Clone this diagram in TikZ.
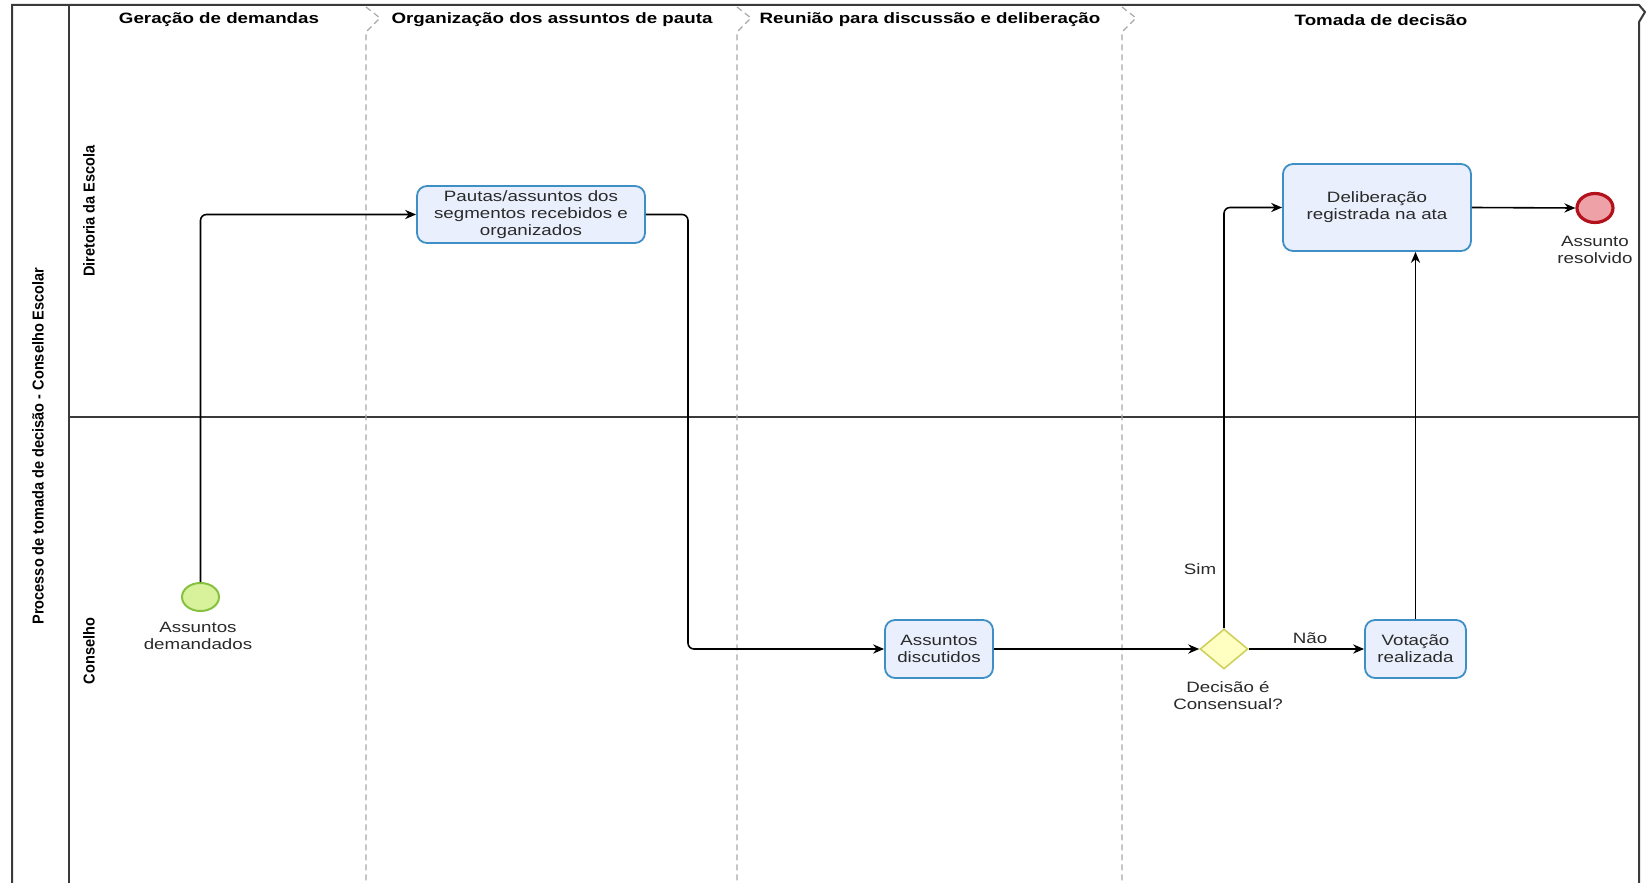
\documentclass[tikz,border=0pt]{standalone}
\usepackage{fontspec}
\setmainfont[FakeStretch=1.25]{Liberation Sans}
\newfontfamily\rotfont[FakeStretch=0.92]{Liberation Sans}
\usetikzlibrary{shapes.geometric,arrows.meta}
\definecolor{taskfill}{HTML}{E9EFFC}
\definecolor{taskdraw}{HTML}{3D8FC6}
\definecolor{gwfill}{HTML}{FFFFC2}
\definecolor{gwdraw}{HTML}{D0D060}
\definecolor{startfill}{HTML}{D8F29C}
\definecolor{startdraw}{HTML}{86C240}
\definecolor{endfill}{HTML}{EFA1A8}
\definecolor{enddraw}{HTML}{B3121C}
\definecolor{poolline}{HTML}{3A3A3A}
\definecolor{phaseline}{HTML}{A8A8A8}
\definecolor{txt}{HTML}{2A2A2A}
\begin{document}
\begin{tikzpicture}[x=0.5pt,y=-0.5pt,
  task/.style={draw=taskdraw, fill=taskfill, line width=0.9pt, rounded corners=5pt,
    align=center, font=\fontsize{7.5}{8.5}\selectfont, text=txt, inner sep=0pt},
  gateway/.style={diamond, draw=gwdraw, fill=gwfill, line width=0.8pt, inner sep=0pt,
    minimum width=24pt, minimum height=20pt},
  startev/.style={ellipse, draw=startdraw, fill=startfill, line width=1pt, inner sep=0pt,
    minimum width=18.5pt, minimum height=14pt},
  endev/.style={ellipse, draw=enddraw, fill=endfill, line width=1.6pt, inner sep=0pt,
    minimum width=18pt, minimum height=14.5pt},
  lbl/.style={align=center, font=\fontsize{7.5}{8.5}\selectfont, text=txt, inner sep=0pt},
  header/.style={font=\fontsize{7.5}{9}\selectfont\bfseries, text=black, inner sep=0pt},
  rotlbl/.style={rotate=90, font=\rotfont\bfseries\fontsize{7.9}{9}\selectfont, text=black, inner sep=0pt},
  flow/.style={draw=black, line width=0.8pt, rounded corners=3pt,
    -{Stealth[length=5.5pt,width=4.6pt]}},
  phase/.style={draw=phaseline, line width=0.6pt, dash pattern=on 3pt off 2pt},
  poolb/.style={draw=poolline, line width=1pt},
]
\useasboundingbox (0,0) rectangle (1646,883);
\fill[white] (0,0) rectangle (1646,883);

% pool frame
\draw[poolb] (12,883) -- (12,5) -- (1639,5) -- (1645,12) -- (1639,22) -- (1639,883);
\draw[poolb] (69,5) -- (69,883);
\draw[draw=poolline, line width=0.6pt] (69,417) -- (1639,417);

% phase separators
\draw[phase] (366,7) -- (380,18) -- (366,32) -- (366,883);
\draw[phase] (737,7) -- (751,18) -- (737,32) -- (737,883);
\draw[phase] (1122,7) -- (1136,18) -- (1122,32) -- (1122,883);

% headers
\node[header] (h1) at (219,20) {Geração de demandas};
\node[header] (h2) at (552,20) {Organização dos assuntos de pauta};
\node[header] (h3) at (930,20) {Reunião para discussão e deliberação};
\node[header] (h4) at (1381,20) {Tomada de decisão};

% pool and lane labels
\node[rotlbl] (pool) at (38,446) {Processo de tomada de decisão - Conselho Escolar};
\node[rotlbl] (lane1) at (89,211) {Diretoria da Escola};
\node[rotlbl] (lane2) at (89,651) {Conselho};

% elements
\node[startev] (start) at (200.5,597) {};
\node[lbl] (startl) at (198,636) {Assuntos\\demandados};

\node[task, minimum width=114pt, minimum height=28.5pt] (t1) at (531,214.5)
  {Pautas/assuntos dos\\segmentos recebidos e\\organizados};
\coordinate (b1) at (688,214.5);

\node[task, minimum width=54pt, minimum height=29pt] (t2) at (939,649)
  {Assuntos\\discutidos};

\node[gateway] (gw) at (1224,649) {};
\node[lbl] (gwl) at (1228,696) {Decisão é\\Consensual?};

\node[task, minimum width=50.5pt, minimum height=29pt] (vot) at (1415.5,649)
  {Votação\\realizada};

\node[task, minimum width=94pt, minimum height=43.5pt] (del) at (1377,207.5)
  {Deliberação\\registrada na ata};

\node[endev] (end) at (1595,208) {};
\node[lbl] (endl) at (1595,250) {Assunto\\resolvido};

% flows
\draw[flow] (start.north) |- (t1.west);
\draw[flow] (t1.east) -- (b1) |- (t2.west);
\draw[flow] (t2.east) -- (gw.west);
\draw[flow] (gw.north) |- (del.west);
\draw[flow] (gw.east) -- (vot.west);
\draw[flow] (vot.north) -- (vot.north |- del.south);
\draw[flow] (del.east) -- (end.west);

\node[lbl] (sim) at (1200,569) {Sim};
\node[lbl] (nao) at (1310,638) {Não};
\end{tikzpicture}
\end{document}
